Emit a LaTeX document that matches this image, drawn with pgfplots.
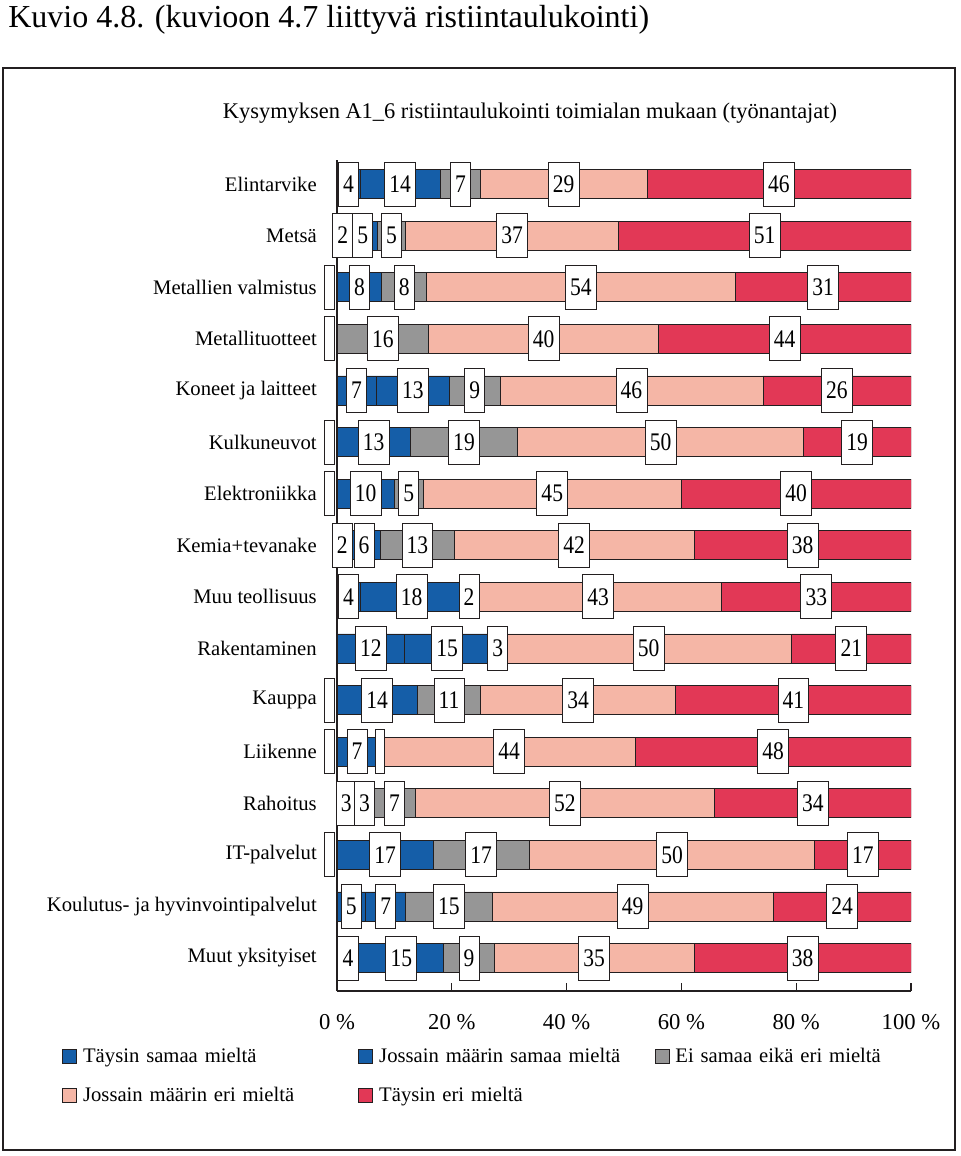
\documentclass[border=0pt]{standalone}
\usepackage{pgfplots}
\pgfplotsset{compat=1.18}
\usepackage{pgfplotstable}
\usepackage{fontspec}
\setmainfont{Liberation Serif}
\newfontfamily\kapea[FakeStretch=0.85]{Liberation Serif}

\definecolor{sininen}{RGB}{21,94,168}
\definecolor{harmaa}{RGB}{150,150,150}
\definecolor{vpuna}{RGB}{245,182,166}
\definecolor{puna}{RGB}{226,56,86}
\definecolor{reuna}{RGB}{35,31,32}

% a = Täysin samaa, b = Jossain määrin samaa, c = Ei samaa eikä eri,
% d = Jossain määrin eri, e = Täysin eri (shares, rows sum to 100);
% la..le = the rounded data labels shown on the bars
\pgfplotstableread{
y  a    b     c     d     e     la lb lc ld le
0  4    14    7     29    46    4  14 7  29 46
1  2    5     5     37    51    2  5  5  37 51
2  0    7.8   7.8   53.8  30.6  {} 8  8  54 31
3  0    0     16    40    44    {} {} 16 40 44
4  6.8  12.8  8.8   45.8  25.8  7  13 9  46 26
5  0    12.75 18.75 49.75 18.75 {} 13 19 50 19
6  0    10    5     45    40    {} 10 5  45 40
7  1.8  5.8   12.8  41.8  37.8  2  6  13 42 38
8  4    18    2     43    33    4  18 2  43 33
9  11.8 14.8  2.8   49.8  20.8  12 15 3  50 21
10 0    14    11    34    41    {} 14 11 34 41
11 0    7     1     44    48    {} 7  {} 44 48
12 3.2  3.2   7.2   52.2  34.2  3  3  7  52 34
13 0    16.75 16.75 49.75 16.75 {} 17 17 50 17
14 5    7     15    49    24    5  7  15 49 24
15 3.8  14.8  8.8   34.8  37.8  4  15 9  35 38
}\ristiin

\pgfplotsset{
  kehys/.style={
    at={(252.75pt,-743.25pt)}, anchor=south west,
    scale only axis, width=430.5pt, height=623.25pt,
    y dir=reverse,
    xmin=0, xmax=100, ymin=-0.465, ymax=15.64,
  },
  lbl/.style={
    only marks, mark=*, mark size=0pt, mark options={draw=none, fill=none},
    nodes near coords, point meta=explicit symbolic,
  },
}

\begin{document}
\begin{tikzpicture}
\useasboundingbox (0pt,0pt) rectangle (720pt,-867pt);
\node[anchor=base west, inner sep=0pt, font=\fontsize{24}{28}\selectfont] at (6pt,-21pt)
  {Kuvio 4.8. (kuvioon 4.7 liittyvä ristiintaulukointi)};
\draw[reuna, line width=0.8pt] (2.25pt,-51pt) rectangle (716.25pt,-862.5pt);
\node[font=\fontsize{16.8}{19}\selectfont] at (397.5pt,-84.5pt)
  {Kysymyksen A1\_6 ristiintaulukointi toimialan mukaan (työnantajat)};

\begin{axis}[
  kehys,
  xbar stacked, bar width=21.75pt,
  axis lines*=left,
  axis line style={reuna, line width=0.8pt},
  tick align=inside,
  major tick length=6pt,
  xtick={0,20,...,100},
  xtick style={reuna, line width=0.8pt},
  xticklabel={\pgfmathprintnumber{\tick}~\%},
  x tick label style={inner sep=0pt, yshift=-17pt, font=\fontsize{17}{20}\selectfont},
  /pgf/number format/assume math mode=true,
  ytick={0,...,15},
  yticklabels={Elintarvike, Metsä, Metallien valmistus, Metallituotteet,
    Koneet ja laitteet, Kulkuneuvot, Elektroniikka, Kemia+tevanake,
    Muu teollisuus, Rakentaminen, Kauppa, Liikenne, Rahoitus, IT-palvelut,
    Koulutus- ja hyvinvointipalvelut, Muut yksityiset},
  ytick style={draw=none},
  y tick label style={inner sep=0pt, xshift=-15pt, font=\fontsize{15.5}{18}\selectfont},
  legend columns=3,
  legend cell align=left,
  legend image code/.code={\draw[#1, draw=reuna, line width=0.6pt] (0pt,-5.25pt) rectangle (10.5pt,5.25pt);},
  legend style={at={(-0.479,-0.068)}, anchor=north west, draw=none, fill=none,
    inner sep=0pt, row sep=17pt, column sep=4.5pt,
    nodes={text width=202pt, inner sep=0pt, font=\fontsize{15.5}{18}\selectfont}},
]
\addplot[fill=sininen, draw=reuna, line width=0.6pt] table[x=a, y=y] {\ristiin};
\addplot[fill=sininen, draw=reuna, line width=0.6pt] table[x=b, y=y] {\ristiin};
\addplot[fill=harmaa, draw=reuna, line width=0.6pt] table[x=c, y=y] {\ristiin};
\addplot[fill=vpuna, draw=reuna, line width=0.6pt] table[x=d, y=y] {\ristiin};
\addplot[fill=puna, draw=reuna, line width=0.6pt] table[x=e, y=y] {\ristiin};
\legend{Täysin samaa mieltä, Jossain määrin samaa mieltä, Ei samaa eikä eri mieltä,
  Jossain määrin eri mieltä, Täysin eri mieltä}
\end{axis}

% data labels: white boxes centred on each segment
\begin{axis}[
  kehys, hide axis, clip=false,
  every node near coord/.append style={anchor=center, fill=white, draw=reuna,
    line width=0.6pt, text=black, minimum height=33pt, inner xsep=3.5pt, inner ysep=0pt,
    font=\kapea\fontsize{19}{19}\selectfont},
]
\addplot[lbl] table[x expr={\thisrow{a}==0 ? -1.3 : \thisrow{a}/2}, y=y, meta=la] {\ristiin};
\addplot[lbl] table[x expr={\thisrow{b}==0 ? \thisrow{a}-1.3 : \thisrow{a}+\thisrow{b}/2}, y=y, meta=lb] {\ristiin};
\addplot[lbl] table[x expr=\thisrow{a}+\thisrow{b}+\thisrow{c}/2, y=y, meta=lc] {\ristiin};
\addplot[lbl] table[x expr=\thisrow{a}+\thisrow{b}+\thisrow{c}+\thisrow{d}/2, y=y, meta=ld] {\ristiin};
\addplot[lbl] table[x expr=\thisrow{a}+\thisrow{b}+\thisrow{c}+\thisrow{d}+\thisrow{e}/2, y=y, meta=le] {\ristiin};
\end{axis}
\end{tikzpicture}
\end{document}
